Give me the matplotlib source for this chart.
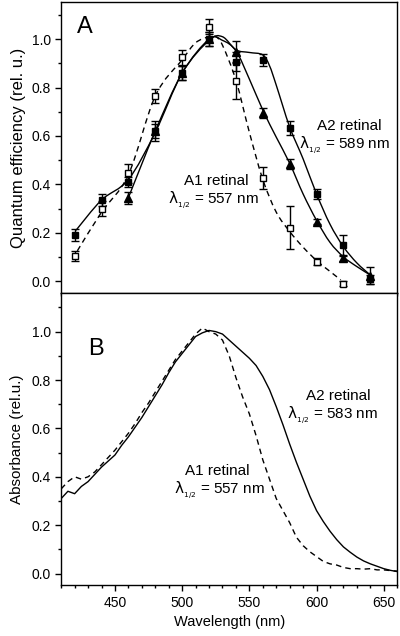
import matplotlib.pyplot as plt
from matplotlib.path import Path
from matplotlib.patches import PathPatch
from matplotlib.ticker import MultipleLocator
import numpy as np

plt.rcParams['font.family'] = ['Liberation Sans', 'DejaVu Sans']
plt.rcParams['mathtext.fontset'] = 'dejavusans'

# ---- panel A: quantum efficiency (points with error bars) ----
wl_a2 = [420, 440, 460, 480, 500, 520, 540, 560, 580, 600, 620, 640]
qe_a2 = [0.19, 0.335, 0.41, 0.62, 0.86, 1.00, 0.907, 0.914, 0.632, 0.359, 0.149, 0.007]
err_a2 = [0.025, 0.025, 0.02, 0.04, 0.03, 0.03, 0.04, 0.025, 0.03, 0.02, 0.04, 0.02]

wl_tri = [460, 480, 500, 520, 540, 560, 580, 600, 620, 640]
qe_tri = [0.345, 0.62, 0.86, 1.00, 0.949, 0.696, 0.483, 0.245, 0.094, 0.022]
err_tri = [0.025, 0.03, 0.03, 0.03, 0.045, 0.02, 0.02, 0.01, 0.01, 0.035]

wl_a1 = [420, 440, 460, 480, 500, 520, 540, 560, 580, 600, 620]
qe_a1 = [0.105, 0.30, 0.445, 0.765, 0.925, 1.052, 0.828, 0.425, 0.221, 0.08, -0.011]
err_a1 = [0.02, 0.03, 0.04, 0.03, 0.03, 0.03, 0.075, 0.045, 0.09, 0.015, 0.01]

# fitted curves drawn through the points
fit_wl_a2 = [421, 440, 460, 480, 500, 520, 530, 540, 550, 560, 565, 570, 580, 590,
             600, 610, 620, 630, 640]
fit_a2 = [0.21, 0.335, 0.42, 0.615, 0.86, 0.995, 1.01, 0.956, 0.945, 0.935, 0.89,
          0.81, 0.637, 0.505, 0.36, 0.235, 0.142, 0.075, 0.025]
fit_wl_tri = [460, 480, 500, 520, 530, 540, 550, 560, 570, 580, 590, 600, 610, 620,
              630, 640]
fit_tri = [0.345, 0.62, 0.86, 1.0, 0.995, 0.952, 0.835, 0.707, 0.595, 0.487, 0.36,
           0.251, 0.16, 0.10, 0.06, 0.025]
fit_wl_a1 = [422, 440, 460, 480, 500, 510, 520, 525, 530, 540, 550, 560, 570, 580,
             590, 600, 610, 618]
fit_a1 = [0.125, 0.285, 0.44, 0.765, 0.915, 0.985, 1.01, 1.01, 0.975, 0.83, 0.615,
          0.42, 0.285, 0.205, 0.14, 0.085, 0.04, 0.005]

# ---- panel B: absorbance spectra ----
wl_abs = list(range(410, 661, 5))
abs_a2 = [0.31, 0.34, 0.33, 0.36, 0.38, 0.41, 0.44, 0.465, 0.49, 0.53,
          0.565, 0.605, 0.645, 0.69, 0.735, 0.78, 0.83, 0.875, 0.91, 0.945,
          0.98, 0.995, 1.005, 1.0, 0.99, 0.965, 0.94, 0.915, 0.89, 0.86,
          0.815, 0.76, 0.69, 0.615, 0.535, 0.46, 0.39, 0.32, 0.26, 0.215,
          0.175, 0.14, 0.11, 0.088, 0.068, 0.052, 0.04, 0.03, 0.02, 0.013, 0.008]
abs_a1 = [0.35, 0.38, 0.40, 0.39, 0.40, 0.42, 0.45, 0.48, 0.51, 0.545,
          0.58, 0.62, 0.665, 0.705, 0.75, 0.795, 0.84, 0.885, 0.92, 0.955,
          0.99, 1.015, 1.0, 0.99, 0.965, 0.90, 0.81, 0.73, 0.66, 0.57,
          0.47, 0.39, 0.31, 0.26, 0.21, 0.15, 0.115, 0.09, 0.07, 0.05,
          0.04, 0.035, 0.025, 0.02, 0.02, 0.018, 0.02, 0.015, 0.015, 0.012, 0.01]


def smooth_path(x, y):
    # Catmull-Rom through the knots, drawn as cubic Bezier segments
    p = np.column_stack([x, y]).astype(float)
    p = np.vstack([p[0], p, p[-1]])
    verts = [p[1]]
    codes = [Path.MOVETO]
    for i in range(1, len(p) - 2):
        c1 = p[i] + (p[i + 1] - p[i - 1]) / 6
        c2 = p[i + 1] - (p[i + 2] - p[i]) / 6
        verts += [c1, c2, p[i + 1]]
        codes += [Path.CURVE4] * 3
    return Path(verts, codes)


def style_axis(ax):
    for s in ax.spines.values():
        s.set_linewidth(1.0)
    ax.set_xlim(410, 660)
    ax.xaxis.set_major_locator(MultipleLocator(50))
    ax.xaxis.set_minor_locator(MultipleLocator(10))
    ax.yaxis.set_major_locator(MultipleLocator(0.2))
    ax.yaxis.set_minor_locator(MultipleLocator(0.1))
    ax.tick_params(direction='out', length=4, width=1, labelsize=10)
    ax.tick_params(which='minor', direction='out', length=2.5, width=1)
    ax.yaxis.set_major_formatter(plt.FormatStrFormatter('%.1f'))


fig = plt.figure(figsize=(4, 6.36), dpi=100)
axA = fig.add_axes([0.153, 0.539, 0.84, 0.458])
axB = fig.add_axes([0.153, 0.080, 0.84, 0.459])

# panel A
style_axis(axA)
axA.set_ylim(-0.05, 1.154)
axA.tick_params(labelbottom=False)

axA.add_patch(PathPatch(smooth_path(fit_wl_a2, fit_a2), fill=False, lw=1.0, color='black'))
axA.add_patch(PathPatch(smooth_path(fit_wl_tri, fit_tri), fill=False, lw=1.0, color='black'))
axA.add_patch(PathPatch(smooth_path(fit_wl_a1, fit_a1), fill=False, lw=1.0, color='black',
                        linestyle=(0, (4, 3))))

eb = dict(ecolor='black', elinewidth=1.0, capsize=3, capthick=1.0, linestyle='none')
axA.errorbar(wl_a1, qe_a1, yerr=err_a1, marker='s', ms=5, mfc='white', mec='black',
             mew=1.0, **eb)
axA.errorbar(wl_a2, qe_a2, yerr=err_a2, marker='s', ms=5, mfc='black', mec='black', **eb)
axA.errorbar(wl_tri, qe_tri, yerr=err_tri, marker='^', ms=6, mfc='black', mec='black', **eb)

lam = r'$\mathrm{\lambda}_{_{1/2}}$'
axA.set_ylabel('Quantum efficiency (rel. u.)', fontsize=12, labelpad=4)
axA.text(422, 1.05, 'A', fontsize=17, va='center', ha='left')
axA.text(624, 0.64, 'A2 retinal', fontsize=11, ha='center', va='center')
axA.text(621, 0.56, lam + ' = 589 nm', fontsize=11, ha='center', va='center')
axA.text(525, 0.412, 'A1 retinal', fontsize=11, ha='center', va='center')
axA.text(523, 0.332, lam + ' = 557 nm', fontsize=11, ha='center', va='center')

# panel B
style_axis(axB)
axB.set_ylim(-0.048, 1.159)
axB.plot(wl_abs, abs_a2, color='black', lw=1.0)
axB.plot(wl_abs, abs_a1, color='black', lw=1.0, linestyle=(0, (4, 3)))
axB.set_xlabel('Wavelength (nm)', fontsize=10.5)
axB.set_ylabel('Absorbance (rel.u.)', fontsize=11, labelpad=5)
axB.text(430, 0.93, 'B', fontsize=17, va='center', ha='left')
axB.text(616, 0.733, 'A2 retinal', fontsize=11, ha='center', va='center')
axB.text(612, 0.653, lam + ' = 583 nm', fontsize=11, ha='center', va='center')
axB.text(526, 0.423, 'A1 retinal', fontsize=11, ha='center', va='center')
axB.text(528, 0.343, lam + ' = 557 nm', fontsize=11, ha='center', va='center')

fig.savefig('out.png', dpi=100)
plt.close(fig)
